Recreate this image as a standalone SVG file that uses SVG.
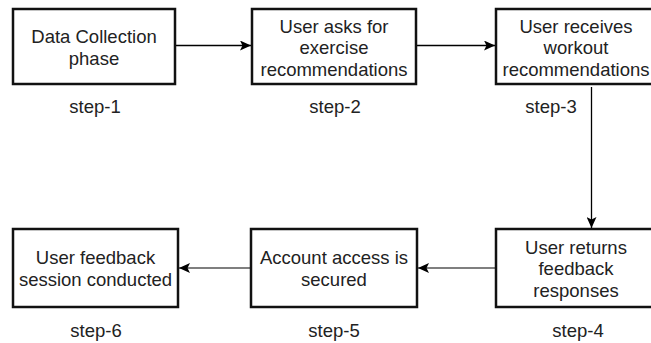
<svg xmlns="http://www.w3.org/2000/svg" width="651" height="343" viewBox="0 0 651 343">
<defs>
<marker id="arr" markerUnits="userSpaceOnUse" markerWidth="12" markerHeight="10" refX="11" refY="5" orient="auto">
<path d="M0,0 L11,5 L0,10 L2.5,5 Z" fill="#000"/>
</marker>
<style>
.box{fill:#fff;stroke:#111;stroke-width:2.5}
.t{font-family:"Liberation Sans",Arial,sans-serif;font-size:18.5px;fill:#222;text-anchor:middle}
.c{fill:none;stroke:#000;stroke-width:1.3}
.c2{fill:none;stroke:#555;stroke-width:1.6}
</style>
</defs>
<rect width="651" height="343" fill="#fff"/>
<g id="connectors">
<path class="c" d="M175,45.5 L251,45.5" marker-end="url(#arr)"/>
<path class="c" d="M416,45.5 L495,45.5" marker-end="url(#arr)"/>
<path class="c" d="M591.5,87 L591.5,228" marker-end="url(#arr)"/>
<path class="c2" d="M495,268 L418,268" marker-end="url(#arr)"/>
<path class="c2" d="M251,268 L179,268" marker-end="url(#arr)"/>
</g>
<g id="step1">
<rect class="box" x="13" y="9" width="162" height="75"/>
<text class="t" x="94" y="42.5">Data Collection</text>
<text class="t" x="94" y="64.5">phase</text>
<text class="t" x="95" y="113">step-1</text>
</g>
<g id="step2">
<rect class="box" x="252" y="9" width="164" height="75"/>
<text class="t" x="334" y="32.5">User asks for</text>
<text class="t" x="334" y="54">exercise</text>
<text class="t" x="334" y="75.5">recommendations</text>
<text class="t" x="335" y="113">step-2</text>
</g>
<g id="step3">
<rect class="box" x="496" y="9" width="162" height="75"/>
<text class="t" x="576" y="32.5">User receives</text>
<text class="t" x="576" y="54">workout</text>
<text class="t" x="576" y="75.5">recommendations</text>
<text class="t" x="551" y="113">step-3</text>
</g>
<g id="step4">
<rect class="box" x="496" y="229" width="162" height="78"/>
<text class="t" x="576" y="253.5">User returns</text>
<text class="t" x="576" y="275">feedback</text>
<text class="t" x="576" y="296.5">responses</text>
<text class="t" x="578" y="337">step-4</text>
</g>
<g id="step5">
<rect class="box" x="251" y="229" width="166" height="78"/>
<text class="t" x="334" y="263.5">Account access is</text>
<text class="t" x="334" y="285.5">secured</text>
<text class="t" x="334" y="337">step-5</text>
</g>
<g id="step6">
<rect class="box" x="13" y="229" width="165" height="78"/>
<text class="t" x="95.5" y="263.5">User feedback</text>
<text class="t" x="95.5" y="285.5">session conducted</text>
<text class="t" x="96" y="337">step-6</text>
</g>
</svg>
